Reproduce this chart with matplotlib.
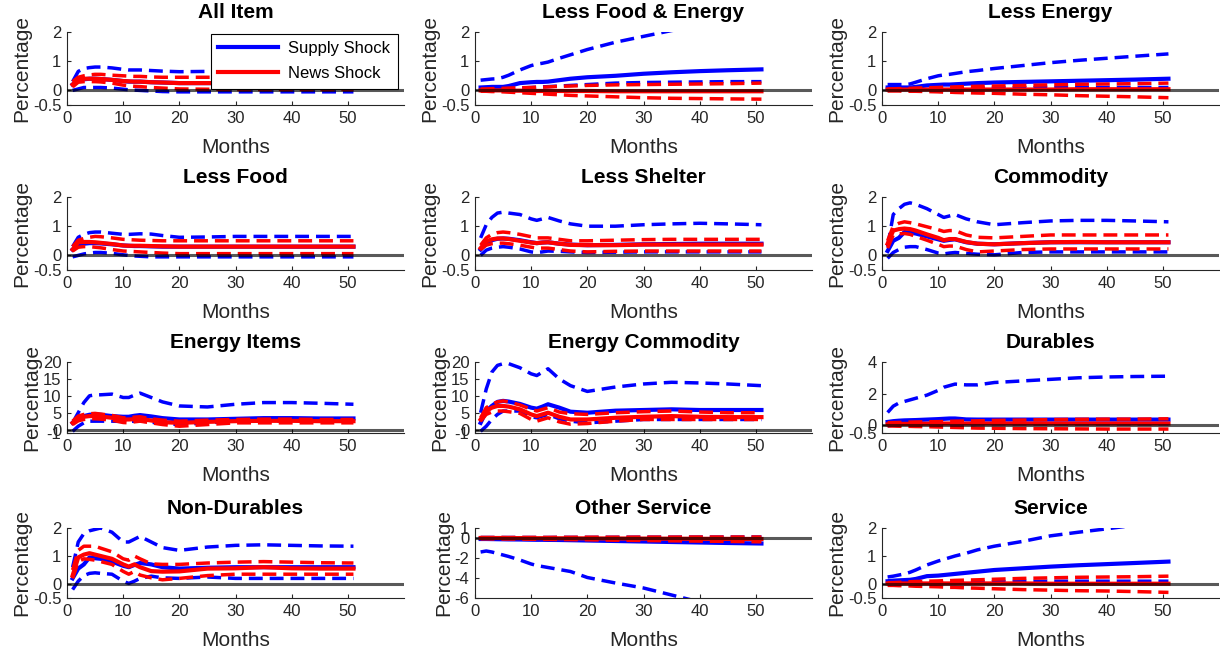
import matplotlib
matplotlib.use('Agg')

import matplotlib.pyplot as plt

plt.rcParams['font.family'] = ['Liberation Sans', 'DejaVu Sans']

# months at which the responses are recorded
months = [1, 2, 3, 4, 5, 6, 8, 10, 11, 12, 13, 15, 17, 20, 25, 30, 35, 40, 45, 51]

# All Item
all_item_sup = [0.20, 0.33, 0.38, 0.40, 0.40, 0.39, 0.36, 0.32, 0.30, 0.30, 0.30, 0.28, 0.27, 0.25, 0.25, 0.25, 0.25, 0.25, 0.25, 0.25]
all_item_sup_hi = [0.30, 0.65, 0.75, 0.78, 0.80, 0.80, 0.77, 0.72, 0.70, 0.70, 0.70, 0.68, 0.66, 0.64, 0.65, 0.65, 0.65, 0.65, 0.65, 0.65]
all_item_sup_lo = [0.00, 0.05, 0.10, 0.10, 0.10, 0.10, 0.08, 0.04, 0.02, 0.01, 0.00, -0.02, -0.04, -0.05, -0.05, -0.05, -0.05, -0.05, -0.05, -0.05]
all_item_news = [0.20, 0.38, 0.40, 0.40, 0.40, 0.39, 0.36, 0.32, 0.31, 0.30, 0.30, 0.28, 0.27, 0.25, 0.25, 0.25, 0.25, 0.25, 0.25, 0.25]
all_item_news_hi = [0.30, 0.45, 0.50, 0.53, 0.55, 0.55, 0.52, 0.50, 0.49, 0.48, 0.48, 0.46, 0.45, 0.45, 0.45, 0.45, 0.45, 0.45, 0.45, 0.45]
all_item_news_lo = [0.12, 0.28, 0.30, 0.30, 0.30, 0.29, 0.25, 0.18, 0.16, 0.14, 0.13, 0.10, 0.08, 0.05, 0.04, 0.03, 0.03, 0.03, 0.03, 0.03]

# Less Food & Energy
lfe_sup = [0.10, 0.11, 0.12, 0.12, 0.12, 0.15, 0.25, 0.28, 0.29, 0.29, 0.30, 0.35, 0.40, 0.45, 0.50, 0.57, 0.62, 0.66, 0.69, 0.72]
lfe_sup_hi = [0.35, 0.37, 0.39, 0.40, 0.45, 0.52, 0.70, 0.85, 0.90, 0.93, 0.97, 1.10, 1.22, 1.40, 1.65, 1.85, 2.05, 2.20, 2.35, 2.50]
lfe_sup_lo = [0.00, 0.02, 0.03, 0.04, 0.05, 0.06, 0.08, 0.10, 0.11, 0.12, 0.13, 0.15, 0.17, 0.20, 0.25, 0.27, 0.28, 0.29, 0.30, 0.30]
lfe_news = [0.00, 0.00, 0.00, 0.00, 0.00, -0.01, -0.01, -0.02, -0.02, -0.02, -0.02, -0.02, -0.02, -0.02, -0.03, -0.03, -0.03, -0.03, -0.03, -0.03]
lfe_news_hi = [0.05, 0.05, 0.06, 0.06, 0.07, 0.08, 0.09, 0.10, 0.11, 0.11, 0.12, 0.14, 0.15, 0.17, 0.19, 0.20, 0.21, 0.22, 0.23, 0.25]
lfe_news_lo = [-0.03, -0.03, -0.04, -0.04, -0.05, -0.06, -0.08, -0.10, -0.11, -0.12, -0.13, -0.15, -0.17, -0.19, -0.22, -0.25, -0.27, -0.28, -0.29, -0.30]

# Less Energy
le_sup = [0.10, 0.10, 0.10, 0.10, 0.10, 0.12, 0.17, 0.19, 0.20, 0.20, 0.21, 0.23, 0.25, 0.27, 0.29, 0.31, 0.33, 0.35, 0.37, 0.40]
le_sup_hi = [0.20, 0.20, 0.20, 0.20, 0.22, 0.28, 0.40, 0.50, 0.53, 0.55, 0.58, 0.64, 0.68, 0.75, 0.85, 0.95, 1.03, 1.10, 1.17, 1.25]
le_sup_lo = [0.00, 0.01, 0.02, 0.02, 0.03, 0.03, 0.04, 0.05, 0.05, 0.05, 0.06, 0.07, 0.07, 0.08, 0.09, 0.10, 0.10, 0.10, 0.10, 0.10]
le_news = [0.03, 0.03, 0.03, 0.03, 0.03, 0.03, 0.03, 0.03, 0.03, 0.03, 0.03, 0.03, 0.03, 0.03, 0.03, 0.03, 0.04, 0.04, 0.04, 0.04]
le_news_hi = [0.05, 0.05, 0.06, 0.06, 0.07, 0.08, 0.09, 0.10, 0.11, 0.11, 0.12, 0.13, 0.14, 0.15, 0.17, 0.19, 0.21, 0.22, 0.23, 0.25]
le_news_lo = [-0.02, -0.02, -0.02, -0.03, -0.03, -0.03, -0.04, -0.05, -0.06, -0.06, -0.07, -0.08, -0.09, -0.10, -0.13, -0.15, -0.18, -0.20, -0.22, -0.25]

# Less Food
lf_sup = [0.20, 0.35, 0.40, 0.42, 0.42, 0.41, 0.38, 0.34, 0.33, 0.32, 0.32, 0.31, 0.30, 0.30, 0.30, 0.30, 0.30, 0.30, 0.30, 0.30]
lf_sup_hi = [0.30, 0.62, 0.72, 0.78, 0.80, 0.80, 0.76, 0.72, 0.72, 0.73, 0.74, 0.73, 0.68, 0.62, 0.63, 0.65, 0.65, 0.65, 0.65, 0.65]
lf_sup_lo = [-0.05, 0.00, 0.05, 0.08, 0.10, 0.10, 0.07, 0.02, 0.00, -0.02, -0.03, -0.05, -0.05, -0.05, -0.05, -0.05, -0.05, -0.05, -0.05, -0.05]
lf_news = [0.20, 0.45, 0.46, 0.46, 0.45, 0.43, 0.39, 0.34, 0.33, 0.33, 0.33, 0.32, 0.31, 0.30, 0.30, 0.30, 0.30, 0.30, 0.30, 0.30]
lf_news_hi = [0.30, 0.52, 0.58, 0.62, 0.65, 0.64, 0.60, 0.55, 0.54, 0.53, 0.52, 0.51, 0.50, 0.50, 0.50, 0.50, 0.50, 0.50, 0.50, 0.50]
lf_news_lo = [0.15, 0.28, 0.30, 0.30, 0.28, 0.26, 0.20, 0.15, 0.14, 0.13, 0.12, 0.10, 0.08, 0.06, 0.06, 0.06, 0.06, 0.06, 0.06, 0.06]

# Less Shelter
ls_sup = [0.20, 0.42, 0.52, 0.57, 0.58, 0.57, 0.52, 0.45, 0.42, 0.44, 0.45, 0.40, 0.37, 0.35, 0.36, 0.38, 0.39, 0.40, 0.40, 0.40]
ls_sup_hi = [0.60, 1.05, 1.30, 1.45, 1.48, 1.45, 1.40, 1.25, 1.20, 1.25, 1.30, 1.18, 1.08, 1.00, 1.00, 1.05, 1.08, 1.10, 1.08, 1.05]
ls_sup_lo = [0.00, 0.18, 0.25, 0.28, 0.30, 0.28, 0.22, 0.12, 0.10, 0.12, 0.15, 0.14, 0.12, 0.10, 0.11, 0.12, 0.12, 0.12, 0.12, 0.12]
ls_news = [0.25, 0.48, 0.55, 0.58, 0.58, 0.56, 0.50, 0.44, 0.42, 0.44, 0.45, 0.40, 0.36, 0.35, 0.35, 0.37, 0.37, 0.37, 0.37, 0.37]
ls_news_hi = [0.35, 0.60, 0.72, 0.78, 0.80, 0.78, 0.72, 0.64, 0.60, 0.60, 0.60, 0.55, 0.50, 0.50, 0.52, 0.54, 0.55, 0.55, 0.55, 0.55]
ls_news_lo = [0.20, 0.35, 0.40, 0.42, 0.42, 0.40, 0.35, 0.28, 0.25, 0.25, 0.25, 0.20, 0.15, 0.12, 0.14, 0.15, 0.15, 0.15, 0.15, 0.15]

# Commodity
com_sup = [0.15, 0.50, 0.60, 0.80, 0.78, 0.75, 0.65, 0.55, 0.50, 0.53, 0.55, 0.45, 0.40, 0.38, 0.42, 0.45, 0.45, 0.45, 0.45, 0.45]
com_sup_hi = [0.30, 1.40, 1.60, 1.75, 1.80, 1.75, 1.60, 1.40, 1.30, 1.35, 1.40, 1.25, 1.15, 1.05, 1.12, 1.18, 1.20, 1.20, 1.18, 1.15]
com_sup_lo = [-0.10, 0.10, 0.20, 0.28, 0.30, 0.30, 0.20, 0.08, 0.05, 0.08, 0.10, 0.07, 0.04, 0.02, 0.10, 0.12, 0.12, 0.12, 0.12, 0.12]
com_news = [0.40, 0.85, 0.90, 0.92, 0.90, 0.85, 0.72, 0.60, 0.52, 0.56, 0.56, 0.46, 0.40, 0.38, 0.42, 0.45, 0.46, 0.45, 0.45, 0.45]
com_news_hi = [0.50, 1.00, 1.10, 1.15, 1.12, 1.08, 0.98, 0.88, 0.82, 0.85, 0.85, 0.70, 0.62, 0.60, 0.65, 0.70, 0.70, 0.70, 0.70, 0.70]
com_news_lo = [0.25, 0.70, 0.74, 0.75, 0.72, 0.65, 0.52, 0.38, 0.30, 0.32, 0.32, 0.20, 0.12, 0.15, 0.20, 0.22, 0.22, 0.22, 0.22, 0.22]

# Energy Items
ei_sup = [2.0, 3.5, 4.0, 4.4, 4.5, 4.4, 4.0, 3.8, 3.8, 4.1, 4.3, 3.9, 3.4, 3.0, 3.0, 3.2, 3.4, 3.4, 3.3, 3.3]
ei_sup_hi = [2.0, 5.0, 8.0, 10.0, 10.3, 10.3, 10.5, 9.5, 9.5, 10.2, 10.8, 9.5, 8.2, 7.0, 6.7, 7.5, 8.0, 8.0, 7.8, 7.5]
ei_sup_lo = [-0.5, 1.0, 2.0, 2.5, 2.5, 2.5, 2.5, 2.4, 2.4, 2.5, 2.6, 2.2, 1.8, 1.5, 2.0, 2.5, 2.5, 2.5, 2.5, 2.5]
ei_news = [2.0, 3.3, 3.8, 4.0, 4.0, 3.9, 3.5, 3.0, 3.0, 3.1, 3.2, 2.7, 2.2, 2.0, 2.3, 2.5, 2.6, 2.6, 2.5, 2.5]
ei_news_hi = [2.5, 4.0, 4.5, 4.7, 4.8, 4.6, 4.2, 3.5, 3.5, 3.7, 3.8, 3.2, 2.8, 2.5, 2.8, 3.0, 3.1, 3.1, 3.0, 3.0]
ei_news_lo = [1.5, 2.6, 3.0, 3.2, 3.2, 3.1, 2.8, 2.1, 2.0, 2.3, 2.5, 2.0, 1.5, 1.0, 1.5, 2.0, 2.0, 2.0, 2.0, 2.0]

# Energy Commodity
ec_sup = [2.0, 5.5, 7.0, 8.2, 8.5, 8.3, 7.6, 6.5, 6.2, 6.8, 7.5, 6.5, 5.3, 5.0, 5.6, 5.8, 6.0, 5.8, 5.8, 5.8]
ec_sup_hi = [5.0, 12.0, 17.0, 19.0, 19.5, 19.5, 18.3, 16.5, 16.0, 17.0, 18.0, 15.0, 13.0, 11.3, 12.6, 13.5, 14.0, 13.8, 13.5, 13.0]
ec_sup_lo = [-0.5, 1.0, 3.0, 4.5, 5.5, 5.5, 5.5, 3.8, 3.5, 4.0, 4.5, 3.2, 2.5, 2.0, 2.5, 3.0, 3.0, 3.0, 3.0, 3.0]
ec_news = [3.0, 5.5, 6.5, 7.0, 7.0, 6.8, 6.0, 4.5, 4.0, 4.5, 5.0, 3.8, 3.0, 3.0, 3.5, 3.8, 4.0, 3.8, 3.7, 3.7]
ec_news_hi = [3.5, 6.5, 7.5, 8.2, 8.5, 8.2, 7.3, 6.0, 5.5, 6.0, 6.5, 5.2, 4.7, 4.5, 5.0, 5.3, 5.5, 5.2, 5.0, 5.0]
ec_news_lo = [2.5, 4.5, 5.2, 5.5, 5.5, 5.3, 4.8, 3.0, 2.5, 3.0, 3.5, 2.3, 1.6, 1.8, 2.5, 3.0, 3.0, 3.0, 3.0, 3.0]

# Durables
dur_sup = [0.20, 0.25, 0.28, 0.30, 0.31, 0.32, 0.35, 0.38, 0.40, 0.42, 0.42, 0.36, 0.35, 0.35, 0.35, 0.35, 0.35, 0.35, 0.35, 0.35]
dur_sup_hi = [0.80, 1.20, 1.40, 1.50, 1.60, 1.70, 1.90, 2.20, 2.40, 2.50, 2.60, 2.55, 2.55, 2.70, 2.80, 2.90, 3.00, 3.05, 3.08, 3.10]
dur_sup_lo = [-0.05, 0.00, 0.02, 0.03, 0.04, 0.05, 0.05, 0.06, 0.06, 0.06, 0.06, 0.07, 0.08, 0.08, 0.08, 0.08, 0.08, 0.08, 0.08, 0.08]
dur_news = [0.05, 0.06, 0.07, 0.08, 0.08, 0.08, 0.09, 0.10, 0.10, 0.10, 0.10, 0.10, 0.10, 0.10, 0.10, 0.10, 0.10, 0.10, 0.10, 0.10]
dur_news_hi = [0.15, 0.16, 0.17, 0.18, 0.19, 0.20, 0.21, 0.22, 0.23, 0.24, 0.25, 0.26, 0.27, 0.30, 0.32, 0.35, 0.37, 0.38, 0.38, 0.40]
dur_news_lo = [-0.05, -0.06, -0.07, -0.08, -0.08, -0.09, -0.10, -0.12, -0.13, -0.14, -0.15, -0.17, -0.19, -0.20, -0.22, -0.23, -0.24, -0.25, -0.25, -0.25]

# Non-Durables
nd_sup = [0.20, 0.55, 0.70, 0.95, 0.92, 0.90, 0.80, 0.65, 0.60, 0.68, 0.75, 0.70, 0.60, 0.55, 0.58, 0.60, 0.60, 0.60, 0.60, 0.60]
nd_sup_hi = [0.60, 1.50, 1.80, 1.90, 1.95, 2.00, 1.85, 1.50, 1.50, 1.60, 1.70, 1.50, 1.30, 1.20, 1.32, 1.38, 1.40, 1.38, 1.36, 1.35]
nd_sup_lo = [-0.20, 0.10, 0.30, 0.38, 0.40, 0.38, 0.35, 0.10, 0.02, 0.10, 0.20, 0.28, 0.22, 0.20, 0.25, 0.20, 0.20, 0.20, 0.20, 0.20]
nd_news = [0.30, 0.95, 1.05, 1.10, 1.05, 1.00, 0.90, 0.70, 0.62, 0.70, 0.60, 0.46, 0.44, 0.45, 0.55, 0.56, 0.60, 0.56, 0.55, 0.55]
nd_news_hi = [0.50, 1.20, 1.35, 1.35, 1.35, 1.28, 1.15, 0.90, 0.85, 1.00, 0.90, 0.72, 0.70, 0.70, 0.75, 0.78, 0.80, 0.78, 0.76, 0.75]
nd_news_lo = [0.20, 0.80, 0.90, 0.88, 0.85, 0.80, 0.70, 0.45, 0.35, 0.45, 0.32, 0.22, 0.15, 0.20, 0.30, 0.35, 0.35, 0.35, 0.35, 0.35]

# Other Service
os_sup = [-0.10, -0.10, -0.11, -0.12, -0.13, -0.14, -0.15, -0.17, -0.18, -0.18, -0.19, -0.20, -0.22, -0.25, -0.30, -0.35, -0.40, -0.45, -0.50, -0.55]
os_sup_hi = [0.05, 0.05, 0.05, 0.05, 0.05, 0.05, 0.05, 0.05, 0.05, 0.05, 0.05, 0.06, 0.06, 0.06, 0.07, 0.08, 0.08, 0.09, 0.09, 0.10]
os_sup_lo = [-1.40, -1.30, -1.40, -1.55, -1.70, -1.85, -2.20, -2.60, -2.75, -2.85, -2.95, -3.15, -3.35, -3.95, -4.50, -5.00, -5.70, -6.40, -7.00, -7.70]
os_news = [0.00, 0.00, 0.00, 0.00, 0.00, -0.01, -0.01, -0.02, -0.02, -0.02, -0.02, -0.03, -0.03, -0.04, -0.05, -0.06, -0.07, -0.08, -0.09, -0.10]
os_news_hi = [0.05, 0.05, 0.05, 0.05, 0.05, 0.05, 0.06, 0.06, 0.06, 0.06, 0.06, 0.07, 0.07, 0.08, 0.08, 0.09, 0.09, 0.10, 0.10, 0.10]
os_news_lo = [-0.08, -0.08, -0.09, -0.09, -0.10, -0.10, -0.11, -0.12, -0.13, -0.13, -0.14, -0.15, -0.16, -0.18, -0.22, -0.25, -0.28, -0.31, -0.34, -0.38]

# Service
svc_sup = [0.10, 0.12, 0.13, 0.14, 0.15, 0.18, 0.28, 0.30, 0.32, 0.34, 0.36, 0.40, 0.44, 0.50, 0.56, 0.62, 0.67, 0.71, 0.75, 0.80]
svc_sup_hi = [0.25, 0.28, 0.32, 0.36, 0.42, 0.50, 0.68, 0.82, 0.88, 0.94, 1.00, 1.10, 1.22, 1.35, 1.52, 1.72, 1.85, 1.97, 2.10, 2.25]
svc_sup_lo = [0.00, 0.01, 0.02, 0.02, 0.03, 0.03, 0.04, 0.05, 0.05, 0.05, 0.06, 0.06, 0.07, 0.08, 0.09, 0.10, 0.10, 0.10, 0.10, 0.10]
svc_news = [0.02, 0.02, 0.02, 0.02, 0.02, 0.02, 0.02, 0.02, 0.02, 0.02, 0.02, 0.02, 0.02, 0.02, 0.02, 0.01, 0.01, 0.01, 0.01, 0.01]
svc_news_hi = [0.05, 0.05, 0.06, 0.07, 0.08, 0.09, 0.10, 0.11, 0.12, 0.12, 0.13, 0.14, 0.15, 0.17, 0.20, 0.22, 0.24, 0.25, 0.26, 0.28]
svc_news_lo = [-0.05, -0.05, -0.06, -0.06, -0.07, -0.08, -0.09, -0.10, -0.11, -0.12, -0.12, -0.14, -0.15, -0.17, -0.20, -0.22, -0.24, -0.25, -0.27, -0.30]

# y ranges and ticks
pct_ticks = [-0.5, 0, 1, 2]
energy_ticks = [-1, 0, 5, 10, 15, 20]
dur_ticks = [-0.5, 0, 2, 4]
os_ticks = [-6, -4, -2, 0, 1]

panels = [
    ("All Item", all_item_sup, all_item_sup_lo, all_item_sup_hi, all_item_news, all_item_news_lo, all_item_news_hi, pct_ticks),
    ("Less Food & Energy", lfe_sup, lfe_sup_lo, lfe_sup_hi, lfe_news, lfe_news_lo, lfe_news_hi, pct_ticks),
    ("Less Energy", le_sup, le_sup_lo, le_sup_hi, le_news, le_news_lo, le_news_hi, pct_ticks),
    ("Less Food", lf_sup, lf_sup_lo, lf_sup_hi, lf_news, lf_news_lo, lf_news_hi, pct_ticks),
    ("Less Shelter", ls_sup, ls_sup_lo, ls_sup_hi, ls_news, ls_news_lo, ls_news_hi, pct_ticks),
    ("Commodity", com_sup, com_sup_lo, com_sup_hi, com_news, com_news_lo, com_news_hi, pct_ticks),
    ("Energy Items", ei_sup, ei_sup_lo, ei_sup_hi, ei_news, ei_news_lo, ei_news_hi, energy_ticks),
    ("Energy Commodity", ec_sup, ec_sup_lo, ec_sup_hi, ec_news, ec_news_lo, ec_news_hi, energy_ticks),
    ("Durables", dur_sup, dur_sup_lo, dur_sup_hi, dur_news, dur_news_lo, dur_news_hi, dur_ticks),
    ("Non-Durables", nd_sup, nd_sup_lo, nd_sup_hi, nd_news, nd_news_lo, nd_news_hi, pct_ticks),
    ("Other Service", os_sup, os_sup_lo, os_sup_hi, os_news, os_news_lo, os_news_hi, os_ticks),
    ("Service", svc_sup, svc_sup_lo, svc_sup_hi, svc_news, svc_news_lo, svc_news_hi, pct_ticks),
]

W, H = 1220, 654
col_left = [67, 475, 882]
ax_w = 337
row_box = [(32, 105), (197, 270), (362, 433), (528, 598)]

axis_gray = (0.15, 0.15, 0.15)
dash = (4.0, 2.0)

fig = plt.figure(figsize=(W / 100, H / 100), dpi=100)

for i, (title, sup, sup_lo, sup_hi, news, news_lo, news_hi, yt) in enumerate(panels):
    r, c = divmod(i, 3)
    top, bot = row_box[r]
    ax = fig.add_axes([col_left[c] / W, 1 - bot / H, ax_w / W, (bot - top) / H])

    ax.plot(months, sup_hi, color='b', lw=2.5, dashes=dash)
    ax.plot(months, sup_lo, color='b', lw=2.5, dashes=dash)
    h1, = ax.plot(months, sup, color='b', lw=3.0, label='Supply Shock')
    ax.plot(months, news_hi, color='r', lw=2.5, dashes=dash)
    ax.plot(months, news_lo, color='r', lw=2.5, dashes=dash)
    h2, = ax.plot(months, news, color='r', lw=3.0, label='News Shock')
    ax.axhline(0, color='k', alpha=0.65, lw=2.2, zorder=5)

    ax.set_xlim(0, 60)
    ax.set_ylim(yt[0], yt[-1])
    ax.set_xticks([0, 10, 20, 30, 40, 50])
    ax.set_yticks(yt)
    ax.set_yticklabels(['%g' % v for v in yt])

    ax.set_title(title, fontsize=15, fontweight='bold', pad=10)
    ax.set_xlabel('Months', fontsize=15, color=axis_gray, labelpad=9)
    ax.set_ylabel('Percentage', fontsize=15, color=axis_gray, labelpad=1)

    for side in ['top', 'right']:
        ax.spines[side].set_visible(False)
    for side in ['left', 'bottom']:
        ax.spines[side].set_color(axis_gray)
        ax.spines[side].set_linewidth(0.8)
    ax.tick_params(direction='in', length=3, width=0.8, colors=axis_gray,
                   labelsize=12, pad=4)

    if i == 0:
        leg = ax.legend(handles=[h1, h2], loc='upper right',
                        bbox_to_anchor=(0.982, 0.975), borderaxespad=0,
                        fontsize=12, fancybox=False, edgecolor='k',
                        framealpha=1, handlelength=3.6, borderpad=0.45,
                        labelspacing=0.6, handletextpad=0.6)
        leg.get_frame().set_linewidth(0.8)
        leg.set_zorder(10)

fig.savefig('out.png', dpi=100)
